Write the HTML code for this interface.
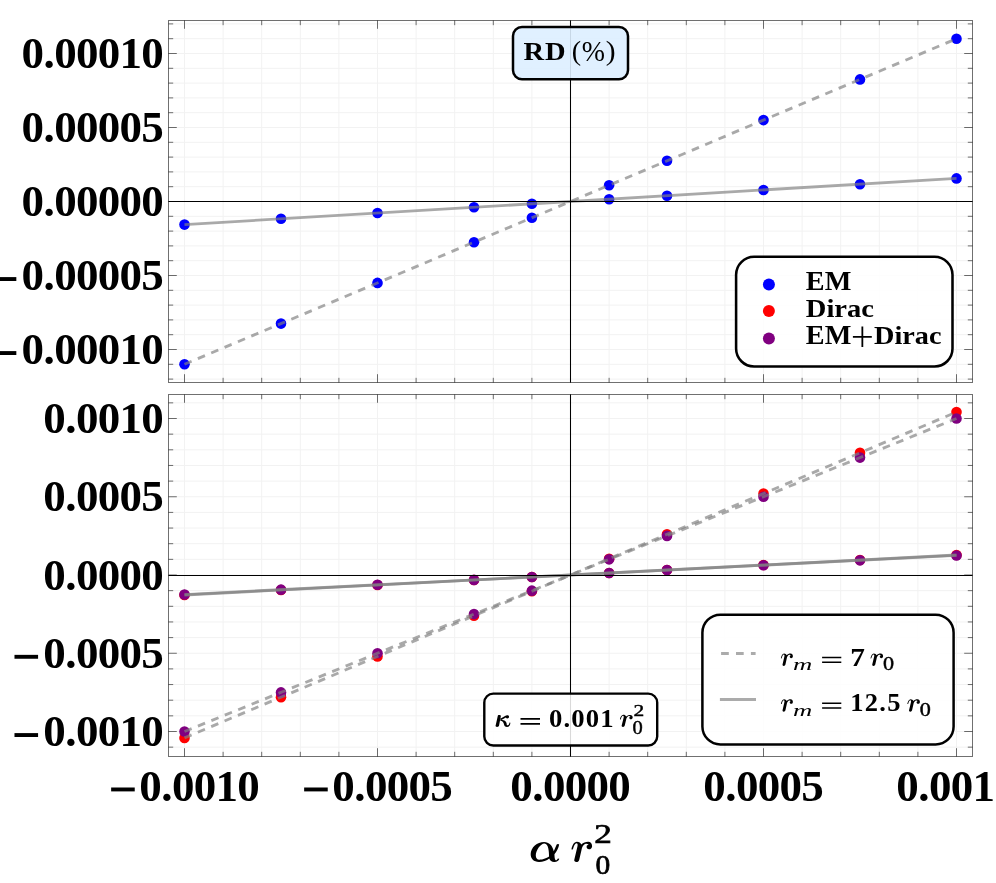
<!DOCTYPE html>
<html><head><meta charset="utf-8"><title>RD plot</title>
<style>
html,body{margin:0;padding:0;background:#fff;}
body{width:996px;height:883px;overflow:hidden;font-family:"Liberation Serif",serif;}
svg{display:block;will-change:transform;}
</style></head><body>
<svg width="996" height="883" viewBox="0 0 996 883">
<rect width="996" height="883" fill="#fff"/>
<path d="M184.5 20.5V382.5M223.1 20.5V382.5M261.7 20.5V382.5M300.3 20.5V382.5M338.9 20.5V382.5M377.5 20.5V382.5M416.1 20.5V382.5M454.7 20.5V382.5M493.3 20.5V382.5M531.9 20.5V382.5M570.5 20.5V382.5M609.1 20.5V382.5M647.7 20.5V382.5M686.3 20.5V382.5M724.9 20.5V382.5M763.5 20.5V382.5M802.1 20.5V382.5M840.7 20.5V382.5M879.3 20.5V382.5M917.9 20.5V382.5M956.5 20.5V382.5M168.5 379.1H972.5M168.5 364.3H972.5M168.5 349.5H972.5M168.5 334.7H972.5M168.5 319.9H972.5M168.5 305.1H972.5M168.5 290.3H972.5M168.5 275.5H972.5M168.5 260.7H972.5M168.5 245.9H972.5M168.5 231.1H972.5M168.5 216.3H972.5M168.5 201.5H972.5M168.5 186.7H972.5M168.5 171.9H972.5M168.5 157.1H972.5M168.5 142.3H972.5M168.5 127.5H972.5M168.5 112.7H972.5M168.5 97.9H972.5M168.5 83.1H972.5M168.5 68.3H972.5M168.5 53.5H972.5M168.5 38.7H972.5M168.5 23.9H972.5" stroke="#f2f2f2" stroke-width="1" fill="none"/>
<circle cx="184.5" cy="364.3" r="5.3" fill="#0000ff"/>
<circle cx="184.5" cy="224.59" r="5.3" fill="#0000ff"/>
<circle cx="281" cy="323.6" r="5.3" fill="#0000ff"/>
<circle cx="281" cy="218.82" r="5.3" fill="#0000ff"/>
<circle cx="377.5" cy="282.9" r="5.3" fill="#0000ff"/>
<circle cx="377.5" cy="213.04" r="5.3" fill="#0000ff"/>
<circle cx="474" cy="242.2" r="5.3" fill="#0000ff"/>
<circle cx="474" cy="207.27" r="5.3" fill="#0000ff"/>
<circle cx="531.9" cy="217.78" r="5.3" fill="#0000ff"/>
<circle cx="531.9" cy="203.81" r="5.3" fill="#0000ff"/>
<circle cx="609.1" cy="185.22" r="5.3" fill="#0000ff"/>
<circle cx="609.1" cy="199.19" r="5.3" fill="#0000ff"/>
<circle cx="667" cy="160.8" r="5.3" fill="#0000ff"/>
<circle cx="667" cy="195.73" r="5.3" fill="#0000ff"/>
<circle cx="763.5" cy="120.1" r="5.3" fill="#0000ff"/>
<circle cx="763.5" cy="189.96" r="5.3" fill="#0000ff"/>
<circle cx="860" cy="79.4" r="5.3" fill="#0000ff"/>
<circle cx="860" cy="184.18" r="5.3" fill="#0000ff"/>
<circle cx="956.5" cy="38.7" r="5.3" fill="#0000ff"/>
<circle cx="956.5" cy="178.41" r="5.3" fill="#0000ff"/>
<path d="M184.5 364.3L956.5 38.7" stroke="#808080" stroke-opacity="0.68" stroke-width="2.85" stroke-dasharray="7.7 6.79" fill="none"/>
<path d="M184.5 224.59L956.5 178.41" stroke="#808080" stroke-opacity="0.68" stroke-width="2.85" fill="none"/>
<path d="M168.5 201.5H972.5M570.5 20.5V382.5" stroke="#000" stroke-width="1.05" fill="none"/>
<path d="M184.5 20.5v8.3M184.5 382.5v-8.3M223.1 20.5v4.7M223.1 382.5v-4.7M261.7 20.5v4.7M261.7 382.5v-4.7M300.3 20.5v4.7M300.3 382.5v-4.7M338.9 20.5v4.7M338.9 382.5v-4.7M377.5 20.5v8.3M377.5 382.5v-8.3M416.1 20.5v4.7M416.1 382.5v-4.7M454.7 20.5v4.7M454.7 382.5v-4.7M493.3 20.5v4.7M493.3 382.5v-4.7M531.9 20.5v4.7M531.9 382.5v-4.7M570.5 20.5v8.3M570.5 382.5v-8.3M609.1 20.5v4.7M609.1 382.5v-4.7M647.7 20.5v4.7M647.7 382.5v-4.7M686.3 20.5v4.7M686.3 382.5v-4.7M724.9 20.5v4.7M724.9 382.5v-4.7M763.5 20.5v8.3M763.5 382.5v-8.3M802.1 20.5v4.7M802.1 382.5v-4.7M840.7 20.5v4.7M840.7 382.5v-4.7M879.3 20.5v4.7M879.3 382.5v-4.7M917.9 20.5v4.7M917.9 382.5v-4.7M956.5 20.5v8.3M956.5 382.5v-8.3M168.5 379.1h4.7M972.5 379.1h-4.7M168.5 364.3h4.7M972.5 364.3h-4.7M168.5 349.5h8.3M972.5 349.5h-8.3M168.5 334.7h4.7M972.5 334.7h-4.7M168.5 319.9h4.7M972.5 319.9h-4.7M168.5 305.1h4.7M972.5 305.1h-4.7M168.5 290.3h4.7M972.5 290.3h-4.7M168.5 275.5h8.3M972.5 275.5h-8.3M168.5 260.7h4.7M972.5 260.7h-4.7M168.5 245.9h4.7M972.5 245.9h-4.7M168.5 231.1h4.7M972.5 231.1h-4.7M168.5 216.3h4.7M972.5 216.3h-4.7M168.5 201.5h8.3M972.5 201.5h-8.3M168.5 186.7h4.7M972.5 186.7h-4.7M168.5 171.9h4.7M972.5 171.9h-4.7M168.5 157.1h4.7M972.5 157.1h-4.7M168.5 142.3h4.7M972.5 142.3h-4.7M168.5 127.5h8.3M972.5 127.5h-8.3M168.5 112.7h4.7M972.5 112.7h-4.7M168.5 97.9h4.7M972.5 97.9h-4.7M168.5 83.1h4.7M972.5 83.1h-4.7M168.5 68.3h4.7M972.5 68.3h-4.7M168.5 53.5h8.3M972.5 53.5h-8.3M168.5 38.7h4.7M972.5 38.7h-4.7M168.5 23.9h4.7M972.5 23.9h-4.7" stroke="#000" stroke-opacity="0.56" stroke-width="1" fill="none"/>
<rect x="168.5" y="20.5" width="804" height="362" fill="none" stroke="#000" stroke-opacity="0.56" stroke-width="1"/>
<path d="M184.5 394.5V756.5M223.1 394.5V756.5M261.7 394.5V756.5M300.3 394.5V756.5M338.9 394.5V756.5M377.5 394.5V756.5M416.1 394.5V756.5M454.7 394.5V756.5M493.3 394.5V756.5M531.9 394.5V756.5M570.5 394.5V756.5M609.1 394.5V756.5M647.7 394.5V756.5M686.3 394.5V756.5M724.9 394.5V756.5M763.5 394.5V756.5M802.1 394.5V756.5M840.7 394.5V756.5M879.3 394.5V756.5M917.9 394.5V756.5M956.5 394.5V756.5M168.5 747.15H972.5M168.5 731.5H972.5M168.5 715.85H972.5M168.5 700.2H972.5M168.5 684.55H972.5M168.5 668.9H972.5M168.5 653.25H972.5M168.5 637.6H972.5M168.5 621.95H972.5M168.5 606.3H972.5M168.5 590.65H972.5M168.5 575H972.5M168.5 559.35H972.5M168.5 543.7H972.5M168.5 528.05H972.5M168.5 512.4H972.5M168.5 496.75H972.5M168.5 481.1H972.5M168.5 465.45H972.5M168.5 449.8H972.5M168.5 434.15H972.5M168.5 418.5H972.5M168.5 402.85H972.5" stroke="#f2f2f2" stroke-width="1" fill="none"/>
<circle cx="184.5" cy="737.92" r="5.3" fill="#ff0000"/>
<circle cx="184.5" cy="595.03" r="5.3" fill="#ff0000"/>
<circle cx="281" cy="697.19" r="5.3" fill="#ff0000"/>
<circle cx="281" cy="590.02" r="5.3" fill="#ff0000"/>
<circle cx="377.5" cy="656.46" r="5.3" fill="#ff0000"/>
<circle cx="377.5" cy="585.02" r="5.3" fill="#ff0000"/>
<circle cx="474" cy="615.73" r="5.3" fill="#ff0000"/>
<circle cx="474" cy="580.01" r="5.3" fill="#ff0000"/>
<circle cx="531.9" cy="591.29" r="5.3" fill="#ff0000"/>
<circle cx="531.9" cy="577" r="5.3" fill="#ff0000"/>
<circle cx="609.1" cy="558.71" r="5.3" fill="#ff0000"/>
<circle cx="609.1" cy="573" r="5.3" fill="#ff0000"/>
<circle cx="667" cy="534.27" r="5.3" fill="#ff0000"/>
<circle cx="667" cy="569.99" r="5.3" fill="#ff0000"/>
<circle cx="763.5" cy="493.54" r="5.3" fill="#ff0000"/>
<circle cx="763.5" cy="564.98" r="5.3" fill="#ff0000"/>
<circle cx="860" cy="452.81" r="5.3" fill="#ff0000"/>
<circle cx="860" cy="559.98" r="5.3" fill="#ff0000"/>
<circle cx="956.5" cy="412.08" r="5.3" fill="#ff0000"/>
<circle cx="956.5" cy="554.97" r="5.3" fill="#ff0000"/>
<circle cx="184.5" cy="731.5" r="5.3" fill="#800080"/>
<circle cx="184.5" cy="594.56" r="5.3" fill="#800080"/>
<circle cx="281" cy="692.38" r="5.3" fill="#800080"/>
<circle cx="281" cy="589.67" r="5.3" fill="#800080"/>
<circle cx="377.5" cy="653.25" r="5.3" fill="#800080"/>
<circle cx="377.5" cy="584.78" r="5.3" fill="#800080"/>
<circle cx="474" cy="614.12" r="5.3" fill="#800080"/>
<circle cx="474" cy="579.89" r="5.3" fill="#800080"/>
<circle cx="531.9" cy="590.65" r="5.3" fill="#800080"/>
<circle cx="531.9" cy="576.96" r="5.3" fill="#800080"/>
<circle cx="609.1" cy="559.35" r="5.3" fill="#800080"/>
<circle cx="609.1" cy="573.04" r="5.3" fill="#800080"/>
<circle cx="667" cy="535.88" r="5.3" fill="#800080"/>
<circle cx="667" cy="570.11" r="5.3" fill="#800080"/>
<circle cx="763.5" cy="496.75" r="5.3" fill="#800080"/>
<circle cx="763.5" cy="565.22" r="5.3" fill="#800080"/>
<circle cx="860" cy="457.62" r="5.3" fill="#800080"/>
<circle cx="860" cy="560.33" r="5.3" fill="#800080"/>
<circle cx="956.5" cy="418.5" r="5.3" fill="#800080"/>
<circle cx="956.5" cy="555.44" r="5.3" fill="#800080"/>
<path d="M184.5 737.92L956.5 412.08" stroke="#808080" stroke-opacity="0.68" stroke-width="2.85" stroke-dasharray="7.7 6.79" fill="none"/>
<path d="M184.5 731.5L956.5 418.5" stroke="#808080" stroke-opacity="0.68" stroke-width="2.85" stroke-dasharray="7.7 6.79" fill="none"/>
<path d="M184.5 595.03L956.5 554.97" stroke="#808080" stroke-opacity="0.68" stroke-width="2.85" fill="none"/>
<path d="M184.5 594.56L956.5 555.44" stroke="#808080" stroke-opacity="0.68" stroke-width="2.85" fill="none"/>
<path d="M168.5 575.4H972.5M570.5 394.5V756.5" stroke="#000" stroke-width="1.05" fill="none"/>
<path d="M184.5 394.5v8.3M184.5 756.5v-8.3M223.1 394.5v4.7M223.1 756.5v-4.7M261.7 394.5v4.7M261.7 756.5v-4.7M300.3 394.5v4.7M300.3 756.5v-4.7M338.9 394.5v4.7M338.9 756.5v-4.7M377.5 394.5v8.3M377.5 756.5v-8.3M416.1 394.5v4.7M416.1 756.5v-4.7M454.7 394.5v4.7M454.7 756.5v-4.7M493.3 394.5v4.7M493.3 756.5v-4.7M531.9 394.5v4.7M531.9 756.5v-4.7M570.5 394.5v8.3M570.5 756.5v-8.3M609.1 394.5v4.7M609.1 756.5v-4.7M647.7 394.5v4.7M647.7 756.5v-4.7M686.3 394.5v4.7M686.3 756.5v-4.7M724.9 394.5v4.7M724.9 756.5v-4.7M763.5 394.5v8.3M763.5 756.5v-8.3M802.1 394.5v4.7M802.1 756.5v-4.7M840.7 394.5v4.7M840.7 756.5v-4.7M879.3 394.5v4.7M879.3 756.5v-4.7M917.9 394.5v4.7M917.9 756.5v-4.7M956.5 394.5v8.3M956.5 756.5v-8.3M168.5 747.15h4.7M972.5 747.15h-4.7M168.5 731.5h8.3M972.5 731.5h-8.3M168.5 715.85h4.7M972.5 715.85h-4.7M168.5 700.2h4.7M972.5 700.2h-4.7M168.5 684.55h4.7M972.5 684.55h-4.7M168.5 668.9h4.7M972.5 668.9h-4.7M168.5 653.25h8.3M972.5 653.25h-8.3M168.5 637.6h4.7M972.5 637.6h-4.7M168.5 621.95h4.7M972.5 621.95h-4.7M168.5 606.3h4.7M972.5 606.3h-4.7M168.5 590.65h4.7M972.5 590.65h-4.7M168.5 575h8.3M972.5 575h-8.3M168.5 559.35h4.7M972.5 559.35h-4.7M168.5 543.7h4.7M972.5 543.7h-4.7M168.5 528.05h4.7M972.5 528.05h-4.7M168.5 512.4h4.7M972.5 512.4h-4.7M168.5 496.75h8.3M972.5 496.75h-8.3M168.5 481.1h4.7M972.5 481.1h-4.7M168.5 465.45h4.7M972.5 465.45h-4.7M168.5 449.8h4.7M972.5 449.8h-4.7M168.5 434.15h4.7M972.5 434.15h-4.7M168.5 418.5h8.3M972.5 418.5h-8.3M168.5 402.85h4.7M972.5 402.85h-4.7" stroke="#000" stroke-opacity="0.56" stroke-width="1" fill="none"/>
<rect x="168.5" y="394.5" width="804" height="362" fill="none" stroke="#000" stroke-opacity="0.56" stroke-width="1"/>
<text x="21.55 43.49 54.18 75.93 97.68 119.43 141.18" y="68.1" font-family="'Liberation Serif', serif" font-weight="bold" font-size="45.0">0.00010</text>
<text x="21.55 43.49 54.18 75.93 97.68 119.43 141.18" y="142.1" font-family="'Liberation Serif', serif" font-weight="bold" font-size="45.0">0.00005</text>
<text x="21.55 43.49 54.18 75.93 97.68 119.43 141.18" y="216.1" font-family="'Liberation Serif', serif" font-weight="bold" font-size="45.0">0.00000</text>
<text x="21.55 43.49 54.18 75.93 97.68 119.43 141.18" y="290.1" font-family="'Liberation Serif', serif" font-weight="bold" font-size="45.0">0.00005</text>
<rect x="-7.27" y="277.1" width="23.6" height="3.9" fill="#000"/>
<text x="21.55 43.49 54.18 75.93 97.68 119.43 141.18" y="364.1" font-family="'Liberation Serif', serif" font-weight="bold" font-size="45.0">0.00010</text>
<rect x="-7.27" y="351.1" width="23.6" height="3.9" fill="#000"/>
<text x="43.3 65.24 75.93 97.68 119.43 141.18" y="433.1" font-family="'Liberation Serif', serif" font-weight="bold" font-size="45.0">0.0010</text>
<text x="43.3 65.24 75.93 97.68 119.43 141.18" y="511.35" font-family="'Liberation Serif', serif" font-weight="bold" font-size="45.0">0.0005</text>
<text x="43.3 65.24 75.93 97.68 119.43 141.18" y="589.6" font-family="'Liberation Serif', serif" font-weight="bold" font-size="45.0">0.0000</text>
<text x="43.3 65.24 75.93 97.68 119.43 141.18" y="667.85" font-family="'Liberation Serif', serif" font-weight="bold" font-size="45.0">0.0005</text>
<rect x="14.48" y="654.85" width="23.6" height="3.9" fill="#000"/>
<text x="43.3 65.24 75.93 97.68 119.43 141.18" y="746.1" font-family="'Liberation Serif', serif" font-weight="bold" font-size="45.0">0.0010</text>
<rect x="14.48" y="733.1" width="23.6" height="3.9" fill="#000"/>
<text x="139.26 161.2 171.89 193.64 215.39 237.14" y="800.5" font-family="'Liberation Serif', serif" font-weight="bold" font-size="45.0">0.0010</text>
<rect x="111.14" y="787.5" width="23.6" height="3.9" fill="#000"/>
<text x="332.26 354.2 364.89 386.64 408.39 430.14" y="800.5" font-family="'Liberation Serif', serif" font-weight="bold" font-size="45.0">0.0005</text>
<rect x="304.14" y="787.5" width="23.6" height="3.9" fill="#000"/>
<text x="510.31 532.25 542.94 564.69 586.44 608.19" y="800.5" font-family="'Liberation Serif', serif" font-weight="bold" font-size="45.0">0.0000</text>
<text x="703.31 725.25 735.94 757.69 779.44 801.19" y="800.5" font-family="'Liberation Serif', serif" font-weight="bold" font-size="45.0">0.0005</text>
<text x="896.31 918.25 928.94 950.69 972.44" y="800.5" font-family="'Liberation Serif', serif" font-weight="bold" font-size="45.0">0.001</text>
<path transform="translate(525.983 834.012) scale(0.03847 0.03848)" d="M470 207C600 207 690 300 722 450L798 275C805 256 856 254 862 274C850 355 800 460 740 528C742 600 745 640 762 668C777 694 802 688 830 638L866 642C860 692 800 730 730 727C670 725 625 690 605 635C540 690 440 727 340 727C200 727 120 640 122 520C125 350 290 207 470 207ZM480 245C380 245 255 420 255 560C255 630 290 668 345 668C440 668 560 620 600 585C600 480 590 245 480 245Z" fill="#000" fill-rule="nonzero"/>
<path transform="translate(566.031 835.976) scale(0.03621 0.03628)" d="M150 365C170 260 220 158 300 158C360 158 405 190 425 235C470 190 540 160 610 160C680 160 722 215 720 280C718 335 680 365 635 365C595 365 565 335 568 295C570 262 595 245 625 243C600 215 570 210 545 215C500 228 460 275 440 330L365 655C355 700 320 720 285 718C245 716 220 690 228 655L315 290C325 245 325 200 290 198C245 198 215 270 195 350C190 375 160 385 150 365Z" fill="#000" fill-rule="nonzero"/>
<text transform="translate(594.35 843.20) scale(1.2588 1)" font-family="'Liberation Serif', serif" font-weight="normal" font-size="27.94" fill="#000" stroke="#000" stroke-width="0.70">2</text>
<text transform="translate(595.48 874.43) scale(1.0475 1)" font-family="'Liberation Serif', serif" font-weight="normal" font-size="28.16" fill="#000" stroke="#000" stroke-width="0.70">0</text>
<rect x="513" y="27" width="115" height="52.2" rx="9" ry="9" fill="#ddeeff" fill-opacity="0.9" stroke="#000" stroke-width="2.5"/>
<text transform="translate(0 60.05) scale(1.0900 1)" x="480.38 500.07" y="0" font-family="'Liberation Serif', serif" font-weight="bold" font-size="26.19">RD</text>
<text transform="translate(571.87 60.17) scale(0.9891 1)" font-family="'Liberation Serif', serif" font-weight="normal" font-size="28.34" fill="#000">(</text>
<text transform="translate(581.75 61.30) scale(0.9261 1)" font-family="'Liberation Serif', serif" font-weight="normal" font-size="30.08" fill="#000">%</text>
<text transform="translate(605.85 60.17) scale(1.0440 1)" font-family="'Liberation Serif', serif" font-weight="normal" font-size="28.34" fill="#000">)</text>
<rect x="736.1" y="256.8" width="216.4" height="109.7" rx="18" ry="18" fill="#fff" fill-opacity="0.85" stroke="#000" stroke-width="2.55"/>
<circle cx="768.9" cy="284.6" r="6" fill="#0000ff"/>
<circle cx="768.9" cy="311.1" r="6" fill="#ff0000"/>
<circle cx="768.9" cy="338.5" r="6" fill="#800080"/>
<text transform="translate(805.82 289.80) scale(1.0752 1)" font-family="'Liberation Serif', serif" font-weight="bold" font-size="26.27" fill="#000">EM</text>
<text transform="translate(805.80 316.94) scale(1.0925 1)" font-family="'Liberation Serif', serif" font-weight="bold" font-size="26.15" fill="#000">Dirac</text>
<text transform="translate(805.82 344.10) scale(1.0752 1)" font-family="'Liberation Serif', serif" font-weight="bold" font-size="26.27" fill="#000">EM</text>
<path d="M852.9 336.8H871.8M862.35 326.6V347" stroke="#000" stroke-width="1.8" fill="none"/>
<text transform="translate(874.00 344.04) scale(1.0811 1)" font-family="'Liberation Serif', serif" font-weight="bold" font-size="26.15" fill="#000">Dirac</text>
<rect x="484.3" y="693.6" width="172.9" height="51.9" rx="9" ry="9" fill="#fff" fill-opacity="0.85" stroke="#000" stroke-width="2.4"/>
<path transform="translate(490.014 708.124) scale(0.02711 0.02689)" d="M290 272C310 250 392 250 402 287L332 660C322 702 240 712 214 682C196 662 208 642 214 620ZM378 398L572 288C600 252 702 258 702 320C702 392 612 402 584 352L402 447ZM388 428C480 428 602 470 612 560C616 600 612 640 652 640C690 640 710 590 720 538L752 545C746 640 700 702 630 702C560 702 520 660 514 600C508 520 450 470 378 466Z" fill="#000" fill-rule="nonzero"/>
<path d="M520.5 718.8H540.0M520.5 723.8H540.0" stroke="#000" stroke-width="1.7" fill="none"/>
<text transform="translate(0 726.65) scale(1.0800 1)" x="508.32 521.72 528.95 542.36 555.76" y="0" font-family="'Liberation Serif', serif" font-weight="bold" font-size="24.74">0.001</text>
<path transform="translate(616.562 711.453) scale(0.02241 0.02159)" d="M150 365C170 260 220 158 300 158C360 158 405 190 425 235C470 190 540 160 610 160C680 160 722 215 720 280C718 335 680 365 635 365C595 365 565 335 568 295C570 262 595 245 625 243C600 215 570 210 545 215C500 228 460 275 440 330L365 655C355 700 320 720 285 718C245 716 220 690 228 655L315 290C325 245 325 200 290 198C245 198 215 270 195 350C190 375 160 385 150 365Z" fill="#000" fill-rule="nonzero"/>
<text transform="translate(633.46 715.70) scale(1.2913 1)" font-family="'Liberation Serif', serif" font-weight="normal" font-size="16.61" fill="#000" stroke="#000" stroke-width="0.40">2</text>
<text transform="translate(632.42 734.43) scale(1.1543 1)" font-family="'Liberation Serif', serif" font-weight="normal" font-size="17.78" fill="#000" stroke="#000" stroke-width="0.40">0</text>
<rect x="702.4" y="614.7" width="251.2" height="129.7" rx="18" ry="18" fill="#fff" fill-opacity="0.85" stroke="#000" stroke-width="2.5"/>
<path d="M721.1 653.5H755.6" stroke="#ababab" stroke-width="2.9" stroke-dasharray="7.7 7.2" fill="none"/>
<path d="M719.9 699.45H756" stroke="#ababab" stroke-width="2.9" fill="none"/>
<path transform="translate(777.755 650.071) scale(0.02103 0.02212)" d="M150 365C170 260 220 158 300 158C360 158 405 190 425 235C470 190 540 160 610 160C680 160 722 215 720 280C718 335 680 365 635 365C595 365 565 335 568 295C570 262 595 245 625 243C600 215 570 210 545 215C500 228 460 275 440 330L365 655C355 700 320 720 285 718C245 716 220 690 228 655L315 290C325 245 325 200 290 198C245 198 215 270 195 350C190 375 160 385 150 365Z" fill="#000" fill-rule="nonzero"/>
<text transform="translate(792.94 669.90) scale(1.5161 1)" font-family="'Liberation Serif', serif" font-weight="normal" font-style="italic" font-size="17.61" fill="#000">m</text>
<path d="M822.1 657.5H841.3M822.1 662.3H841.3" stroke="#000" stroke-width="1.6" fill="none"/>
<text transform="translate(850.22 665.80) scale(1.1665 1)" font-family="'Liberation Serif', serif" font-weight="bold" font-size="25.20" fill="#000">7</text>
<path transform="translate(867.210 650.071) scale(0.02207 0.02212)" d="M150 365C170 260 220 158 300 158C360 158 405 190 425 235C470 190 540 160 610 160C680 160 722 215 720 280C718 335 680 365 635 365C595 365 565 335 568 295C570 262 595 245 625 243C600 215 570 210 545 215C500 228 460 275 440 330L365 655C355 700 320 720 285 718C245 716 220 690 228 655L315 290C325 245 325 200 290 198C245 198 215 270 195 350C190 375 160 385 150 365Z" fill="#000" fill-rule="nonzero"/>
<text transform="translate(882.96 669.93) scale(1.2472 1)" font-family="'Liberation Serif', serif" font-weight="normal" font-size="17.78" fill="#000" stroke="#000" stroke-width="0.40">0</text>
<path transform="translate(777.755 695.771) scale(0.02103 0.02212)" d="M150 365C170 260 220 158 300 158C360 158 405 190 425 235C470 190 540 160 610 160C680 160 722 215 720 280C718 335 680 365 635 365C595 365 565 335 568 295C570 262 595 245 625 243C600 215 570 210 545 215C500 228 460 275 440 330L365 655C355 700 320 720 285 718C245 716 220 690 228 655L315 290C325 245 325 200 290 198C245 198 215 270 195 350C190 375 160 385 150 365Z" fill="#000" fill-rule="nonzero"/>
<text transform="translate(792.94 715.60) scale(1.5161 1)" font-family="'Liberation Serif', serif" font-weight="normal" font-style="italic" font-size="17.61" fill="#000">m</text>
<path d="M822.1 703.2H841.3M822.1 708.0H841.3" stroke="#000" stroke-width="1.6" fill="none"/>
<text transform="translate(0 711.25) scale(1.0800 1)" x="787.20 800.71 814.22 821.59" y="0" font-family="'Liberation Serif', serif" font-weight="bold" font-size="24.55">12.5</text>
<path transform="translate(904.010 695.771) scale(0.02207 0.02212)" d="M150 365C170 260 220 158 300 158C360 158 405 190 425 235C470 190 540 160 610 160C680 160 722 215 720 280C718 335 680 365 635 365C595 365 565 335 568 295C570 262 595 245 625 243C600 215 570 210 545 215C500 228 460 275 440 330L365 655C355 700 320 720 285 718C245 716 220 690 228 655L315 290C325 245 325 200 290 198C245 198 215 270 195 350C190 375 160 385 150 365Z" fill="#000" fill-rule="nonzero"/>
<text transform="translate(919.76 715.63) scale(1.2472 1)" font-family="'Liberation Serif', serif" font-weight="normal" font-size="17.78" fill="#000" stroke="#000" stroke-width="0.40">0</text>
</svg>
</body></html>
